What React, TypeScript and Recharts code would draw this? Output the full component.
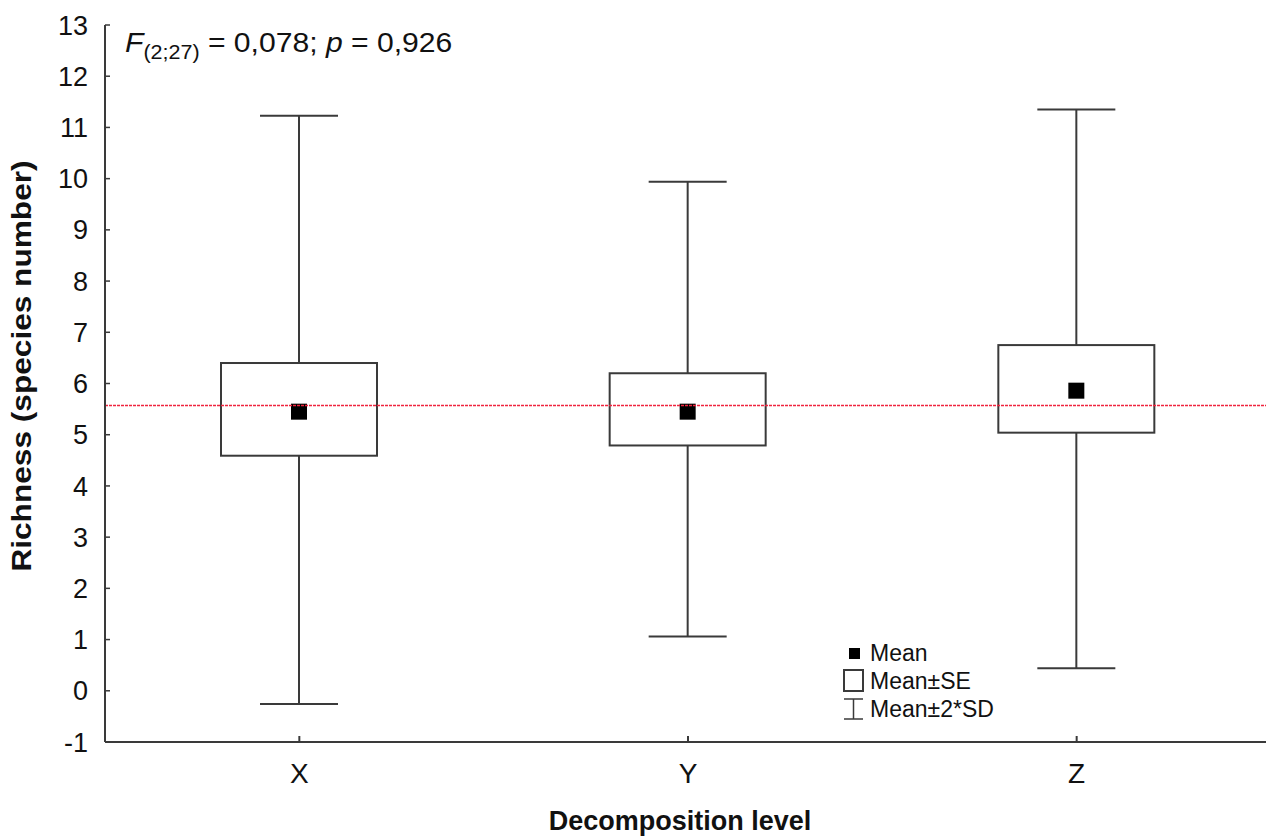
import { ComposedChart, Bar, XAxis, YAxis, ReferenceLine } from 'recharts';

const categories = ['X', 'Y', 'Z'];
const means = [5.45, 5.45, 5.86];
const seLow = [4.59, 4.79, 5.04];
const seHigh = [6.4, 6.2, 6.75];
const sdLow = [-0.26, 1.06, 0.44];
const sdHigh = [11.23, 9.94, 11.35];
const grandMean = 5.57;
const yTicks = [-1, 0, 1, 2, 3, 4, 5, 6, 7, 8, 9, 10, 11, 12, 13];

const FONT = '"Liberation Sans", Arial, sans-serif';
const INK = '#3a3a3a';

const data = categories.map((name, i) => ({
  name,
  mean: means[i],
  seLow: seLow[i],
  seHigh: seHigh[i],
  sdLow: sdLow[i],
  sdHigh: sdHigh[i],
}));

function BoxShape(props: any) {
  const { x, y, width, height, payload } = props;
  const top = Math.min(y, y + height);
  const h = Math.abs(height);
  const hi = payload.sdHigh;
  const lo = payload.sdLow;
  // value -> pixel, using the bar's own scaled extent
  const py = (v: number) => top + ((hi - v) / (hi - lo)) * h;
  const cx = x + width / 2;
  const cap = width / 4;
  const m = py(payload.mean);
  return (
    <g>
      <line x1={cx} x2={cx} y1={py(hi)} y2={py(payload.seHigh)} stroke={INK} strokeWidth={2} />
      <line x1={cx} x2={cx} y1={py(payload.seLow)} y2={py(lo)} stroke={INK} strokeWidth={2} />
      <line x1={cx - cap} x2={cx + cap} y1={py(hi)} y2={py(hi)} stroke={INK} strokeWidth={2} />
      <line x1={cx - cap} x2={cx + cap} y1={py(lo)} y2={py(lo)} stroke={INK} strokeWidth={2} />
      <rect
        x={x}
        y={py(payload.seHigh)}
        width={width}
        height={py(payload.seLow) - py(payload.seHigh)}
        fill="none"
        stroke={INK}
        strokeWidth={2}
      />
      <rect x={cx - 8} y={m - 8} width={16} height={16} fill="#000" />
    </g>
  );
}

export default function App() {
  return (
    <div style={{ position: 'absolute', left: 0, top: 0, width: 1266, height: 836, overflow: 'hidden', background: '#fff', fontFamily: FONT }}>
      <ComposedChart width={1271} height={836} data={data} margin={{ top: 25, right: 0, bottom: 0, left: 0 }}>
        <XAxis
          dataKey="name"
          height={94}
          tickSize={-6}
          tickMargin={27}
          axisLine={{ stroke: INK, strokeWidth: 2 }}
          tickLine={{ stroke: INK, strokeWidth: 2 }}
          tick={{ fontSize: 28, fill: '#111', fontFamily: FONT }}
          label={{
            content: () => (
              <text x={680} y={830} textAnchor="middle" fontSize={27} fontWeight="bold" fill="#111" fontFamily={FONT}>
                Decomposition level
              </text>
            ),
          }}
        />
        <YAxis
          width={105}
          domain={[-1, 13]}
          ticks={yTicks}
          interval={0}
          tickSize={-5}
          tickMargin={22}
          axisLine={{ stroke: INK, strokeWidth: 2 }}
          tickLine={{ stroke: INK, strokeWidth: 1.5 }}
          tick={{ fontSize: 27, fill: '#111', fontFamily: FONT }}
          label={{
            content: () => (
              <text
                x={0}
                y={0}
                transform="translate(31 366) rotate(-90) scale(1.13 1)"
                textAnchor="middle"
                fontSize={28}
                fontWeight="bold"
                fill="#111"
                fontFamily={FONT}
              >
                Richness (species number)
              </text>
            ),
          }}
        />
        <ReferenceLine y={grandMean} stroke="#f0243f" strokeWidth={1.6} strokeDasharray="3 1" />
        <Bar
          dataKey={(d: any) => [d.sdLow, d.sdHigh]}
          barSize={156}
          shape={<BoxShape />}
          isAnimationActive={false}
        />
      </ComposedChart>

      <div
        style={{
          position: 'absolute',
          left: 125,
          top: 27,
          fontSize: 28,
          color: '#111',
          whiteSpace: 'nowrap',
          transform: 'scaleX(1.075)',
          transformOrigin: 'left top',
        }}
      >
        <i>F</i>
        <span style={{ fontSize: 20, position: 'relative', top: 7 }}>(2;27)</span>
        {' = 0,078; '}
        <i>p</i>
        {' = 0,926'}
      </div>

      <div style={{ position: 'absolute', left: 842, top: 639, fontSize: 23, color: '#111', lineHeight: '28px' }}>
        <div style={{ display: 'flex', alignItems: 'center' }}>
          <svg width={24} height={24}>
            <rect x={7} y={7} width={11} height={11} fill="#000" />
          </svg>
          <span style={{ marginLeft: 4 }}>Mean</span>
        </div>
        <div style={{ display: 'flex', alignItems: 'center' }}>
          <svg width={24} height={24}>
            <rect x={2} y={1} width={19} height={21} fill="none" stroke={INK} strokeWidth={2} />
          </svg>
          <span style={{ marginLeft: 4 }}>Mean±SE</span>
        </div>
        <div style={{ display: 'flex', alignItems: 'center' }}>
          <svg width={24} height={24}>
            <line x1={2} x2={21} y1={2} y2={2} stroke={INK} strokeWidth={1.5} />
            <line x1={11.5} x2={11.5} y1={2} y2={22} stroke={INK} strokeWidth={1.5} />
            <line x1={2} x2={21} y1={22} y2={22} stroke={INK} strokeWidth={1.5} />
          </svg>
          <span style={{ marginLeft: 4 }}>Mean±2*SD</span>
        </div>
      </div>
    </div>
  );
}
